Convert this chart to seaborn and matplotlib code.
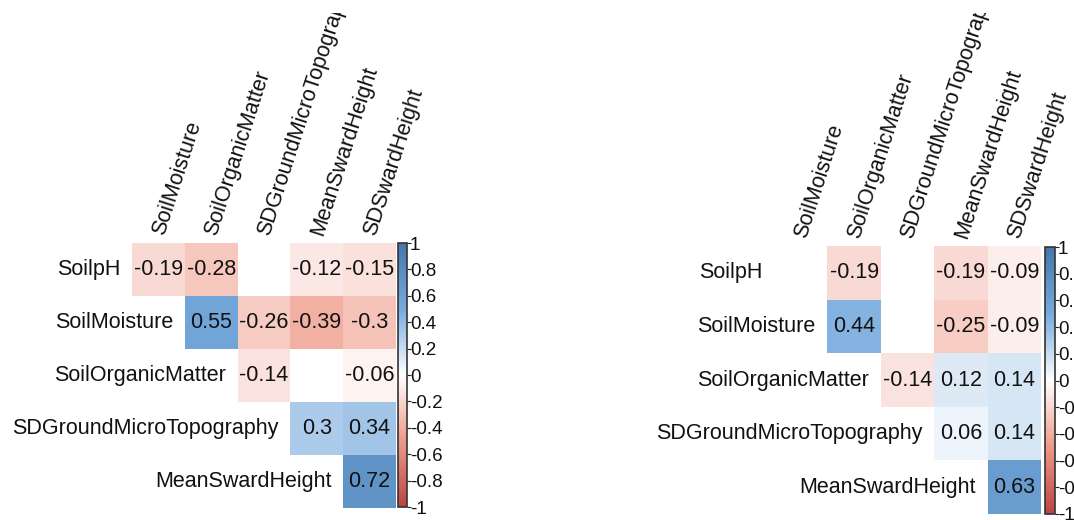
import numpy as np
import pandas as pd
import seaborn as sns
import matplotlib
matplotlib.use("Agg")
import matplotlib.pyplot as plt
from matplotlib.colors import LinearSegmentedColormap
from matplotlib.transforms import Bbox, TransformedBbox

# Variables of the soil / sward correlation matrices (upper triangle shown)
row_vars = ["SoilpH", "SoilMoisture", "SoilOrganicMatter",
            "SDGroundMicroTopography", "MeanSwardHeight"]
col_vars = ["SoilMoisture", "SoilOrganicMatter", "SDGroundMicroTopography",
            "MeanSwardHeight", "SDSwardHeight"]

nan = np.nan
# Significant correlations only; NaN = not significant (left blank)
corr_a_pH = [-0.19, -0.28, nan, -0.12, -0.15]
corr_a_moist = [nan, 0.55, -0.26, -0.39, -0.30]
corr_a_som = [nan, nan, -0.14, nan, -0.06]
corr_a_sdg = [nan, nan, nan, 0.30, 0.34]
corr_a_msh = [nan, nan, nan, nan, 0.72]

corr_b_pH = [nan, -0.19, nan, -0.19, -0.09]
corr_b_moist = [nan, 0.44, nan, -0.25, -0.09]
corr_b_som = [nan, nan, -0.14, 0.12, 0.14]
corr_b_sdg = [nan, nan, nan, 0.06, 0.14]
corr_b_msh = [nan, nan, nan, nan, 0.63]

cbar_ticks = [1, 0.8, 0.6, 0.4, 0.2, 0, -0.2, -0.4, -0.6, -0.8, -1]

palette = LinearSegmentedColormap.from_list(
    "corr", ["#BB4444", "#EE9988", "#FFFFFF", "#77AADD", "#4477AA"], N=200)

sns.set_style("white")
plt.rcParams["font.family"] = ["Liberation Sans", "DejaVu Sans"]

W, H = 1074, 520
fig = plt.figure(figsize=(W / 100, H / 100), dpi=100)

# device region: long column labels are cut at its top margin
label_clip = TransformedBbox(Bbox([[0, 0], [1, 1 - 13 / H]]), fig.transFigure)


def px_axes(x0, y0, x1, y1):
    return fig.add_axes([x0 / W, 1 - y1 / H, (x1 - x0) / W, (y1 - y0) / H])


def fmt(v):
    if np.isnan(v):
        return ""
    return f"{v:g}"


def draw_panel(rows, box, cbox):
    mat = pd.DataFrame(rows, index=row_vars, columns=col_vars)
    ax = px_axes(*box)
    cax = px_axes(*cbox)
    labels = np.array([[fmt(v) for v in r] for r in mat.values])
    sns.heatmap(mat, ax=ax, cmap=palette, vmin=-1, vmax=1, annot=labels,
                fmt="", annot_kws={"size": 15.5, "color": "#111111"},
                cbar_ax=cax, cbar_kws={"ticks": cbar_ticks},
                xticklabels=False, yticklabels=False)
    ax.set_xlabel("")
    ax.set_ylabel("")
    for i, name in enumerate(row_vars):
        ax.text(i - 0.22, i + 0.5, name, ha="right", va="center",
                fontsize=15.5, color="#111111", clip_on=False)
    for j, name in enumerate(col_vars):
        t = ax.text(j + 0.5, -0.16, name, ha="left", va="center",
                    rotation=72, rotation_mode="anchor",
                    fontsize=15.5, color="#111111")
        t.set_clip_box(label_clip)
        t.set_clip_on(True)
    cbar = ax.collections[0].colorbar
    cbar.outline.set_edgecolor("#333333")
    cbar.outline.set_linewidth(1.2)
    cax.set_yticks(cbar_ticks)
    cax.set_yticklabels([f"{t:g}" for t in cbar_ticks])
    cax.tick_params(axis="y", length=3, width=0.8, pad=-1, labelsize=13.5,
                    colors="#222222", labelcolor="#111111", direction="out")


draw_panel([corr_a_pH, corr_a_moist, corr_a_som, corr_a_sdg, corr_a_msh],
           (132, 243, 396, 508), (398, 243, 407, 507))
draw_panel([corr_b_pH, corr_b_moist, corr_b_som, corr_b_sdg, corr_b_msh],
           (774, 246, 1041, 514), (1045, 247, 1055, 514))

fig.savefig("out.png", dpi=100)
